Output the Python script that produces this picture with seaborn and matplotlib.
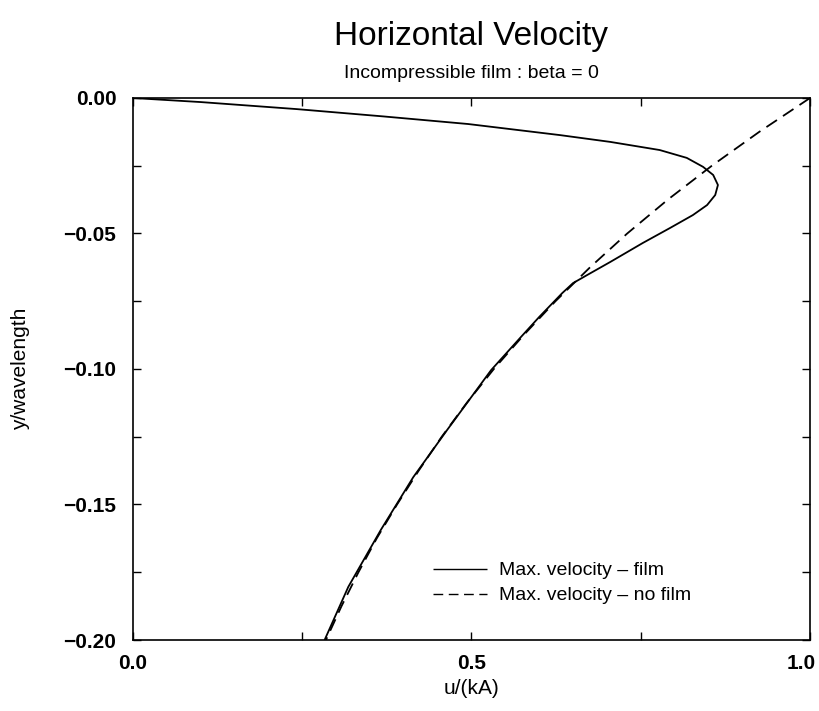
import matplotlib
matplotlib.use("Agg")
import matplotlib.pyplot as plt
from matplotlib.ticker import MultipleLocator, FuncFormatter
import seaborn as sns
import pandas as pd

# Data
film_u = [0.0, 0.10, 0.242, 0.37, 0.495, 0.631, 0.705, 0.778, 0.818, 0.842, 0.857,
          0.864, 0.860, 0.848, 0.827, 0.793, 0.753, 0.705, 0.671, 0.650, 0.634,
          0.600, 0.573, 0.529, 0.464, 0.414, 0.366, 0.318, 0.283]
film_y = [0.0, -0.0015, -0.0041, -0.0068, -0.0096, -0.0137, -0.0162, -0.0192, -0.0221,
          -0.0254, -0.0284, -0.0321, -0.0358, -0.0395, -0.0432, -0.048, -0.0535,
          -0.0605, -0.0653, -0.0683, -0.072, -0.0808, -0.0882, -0.1004, -0.1225,
          -0.1399, -0.1594, -0.1804, -0.2]
nofilm_u = [1.0, 0.925, 0.855, 0.79, 0.73, 0.675, 0.624, 0.577, 0.533, 0.493, 0.456,
            0.422, 0.39, 0.36, 0.333, 0.308, 0.285]
nofilm_y = [0.0, -0.0125, -0.025, -0.0375, -0.05, -0.0625, -0.075, -0.0875, -0.1,
            -0.1125, -0.125, -0.1375, -0.15, -0.1625, -0.175, -0.1875, -0.2]
labels = ["Max. velocity \u2013 film", "Max. velocity \u2013 no film"]
title = "Horizontal Velocity"
subtitle = "Incompressible film : beta = 0"
xlabel = "u/(kA)"
ylabel = "y/wavelength"
xticks = [0.0, 0.5, 1.0]

sns.set_style("ticks")
plt.rcParams['font.family'] = ['Liberation Sans', 'DejaVu Sans']
plt.rcParams.update({"text.color": "black", "axes.labelcolor": "black",
                     "xtick.color": "black", "ytick.color": "black",
                     "axes.edgecolor": "black"})

df = pd.concat([
    pd.DataFrame({"u": film_u, "y": film_y, "series": labels[0]}),
    pd.DataFrame({"u": nofilm_u, "y": nofilm_y, "series": labels[1]}),
])

fig = plt.figure(figsize=(8.19, 7.11), dpi=100)
ax = fig.add_axes([133/819, 1-640/711, (810-133)/819, (640-98)/711])

sns.lineplot(data=df, x="u", y="y", hue="series", style="series",
             palette=["black", "black"], dashes=[(1, 0), (7, 4)],
             sort=False, estimator=None, lw=1.3, ax=ax)

ax.set_xlim(0, 1)
ax.set_ylim(-0.2, 0)
ax.xaxis.set_major_locator(MultipleLocator(0.5))
ax.xaxis.set_minor_locator(MultipleLocator(0.25))
ax.yaxis.set_major_locator(MultipleLocator(0.05))
ax.yaxis.set_minor_locator(MultipleLocator(0.025))
# the last x tick label is drawn below (shifted left so it stays inside the figure)
ax.xaxis.set_major_formatter(FuncFormatter(
    lambda v, p: "" if abs(v - xticks[-1]) < 1e-9 else f"{v:.1f}".replace("-", "\u2212")))
ax.yaxis.set_major_formatter(FuncFormatter(lambda v, p: f"{v:.2f}".replace("-", "\u2212")))
ax.tick_params(which="both", direction="in", top=True, right=True, length=6, width=1)
ax.tick_params(which="major", labelsize=15)
ax.tick_params(axis="x", which="major", pad=10)
ax.tick_params(axis="y", which="major", pad=12)
for lab in ax.get_xticklabels() + ax.get_yticklabels():
    lab.set_fontweight("bold")
ax.annotate(f"{xticks[-1]:.1f}", xy=(xticks[-1], 0), xycoords=("data", "axes fraction"),
            xytext=(-6, -10), textcoords="offset points", ha="center", va="top",
            fontsize=15, fontweight="bold")
for s in ax.spines.values():
    s.set_linewidth(1.2)
    s.set_visible(True)

ax.set_xlabel(xlabel, fontsize=15)
ax.set_ylabel(ylabel, fontsize=15)
ax.xaxis.set_label_coords(0.5, -0.072)
ax.yaxis.set_label_coords(-0.152, 0.5)
fig.text(471/819, 1-37/711, title, ha="center", va="center", fontsize=24)
fig.text(471/819, 1-73/711, subtitle, ha="center", va="center", fontsize=14)

leg = ax.legend(loc="upper left", bbox_to_anchor=((425-133)/677, 1-(554-98)/542),
                frameon=False, fontsize=14, handlelength=2.8, handletextpad=0.6,
                labelspacing=0.38, borderaxespad=0)
for h in leg.get_lines():
    h.set_linewidth(1.0)

fig.savefig("out.png", dpi=100)
